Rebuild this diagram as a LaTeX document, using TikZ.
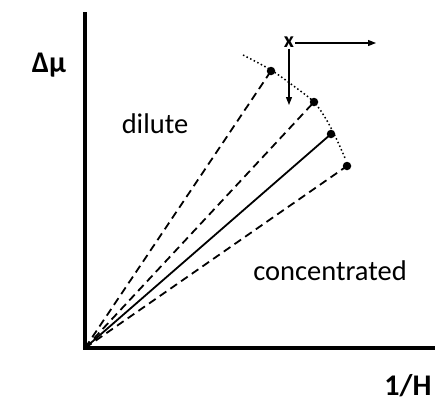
\documentclass[tikz,border=0pt]{standalone}
\usepackage{fontspec}
\setmainfont{Carlito}
\usetikzlibrary{arrows.meta, positioning, calc}
\definecolor{dgInk}{HTML}{000000}
\tikzset{
  axis/.style={draw=dgInk, line width=3.4pt},
  ray/.style={draw=dgInk, line width=1.8pt},
  dray/.style={ray, dash pattern=on 8pt off 5pt},
  conc/.style={circle, fill=dgInk, inner sep=0pt, minimum size=8.5pt},
  shiftarr/.style={-{Triangle[length=8pt, width=6pt]}, line width=1.2pt, draw=dgInk},
  lbl/.style={font=\fontsize{28.5}{33}\selectfont, text=dgInk, inner sep=0pt, anchor=base},
  blbl/.style={lbl, font=\fontsize{30}{35}\selectfont\bfseries},
}

\begin{document}
\begin{tikzpicture}[x=1pt, y=-1pt]
  \useasboundingbox (0,0) rectangle (435,408);

  % axes
  \coordinate (o) at (85,348);
  \coordinate (ytop) at (85,12);
  \coordinate (xend) at (435,348);
  \draw[axis] (ytop) -- (o) -- (xend);

  % end points of the lines
  \node[conc] (p1) at (271,71) {};
  \node[conc] (p2) at (314,102) {};
  \node[conc] (p3) at (331,134) {};
  \node[conc] (p4) at (347,166) {};

  \draw[dray] (o) -- (p1.center);
  \draw[dray] (o) -- (p2.center);
  \draw[ray] (o) -- (p3.center);
  \draw[dray] (o) -- (p4.center);

  % dotted envelope
  \draw[line width=1.5pt, dash pattern=on 1.5pt off 2.5pt]
    plot[smooth] coordinates {(243,55) (271,70) (295,87) (314,102) (326,119) (336,138) (345,158)};

  % x shift
  \node[font=\fontsize{22}{26}\selectfont\bfseries, inner sep=1pt] (xs) at (289,42) {x};
  \coordinate (xright) at (376,43);
  \coordinate (xdown) at (289,105);
  \draw[shiftarr] (xs.east |- xright) -- (xright);
  \draw[shiftarr] (xs.south) -- (xdown);

  % labels
  \node[blbl] (ylab) at (49,72) {Δμ};
  \node[lbl] (dil) at (155,133) {dilute};
  \node[lbl] (con) at (330,280) {concentrated};
  \node[blbl] (xlab) at (408,395) {1/H};
\end{tikzpicture}
\end{document}
